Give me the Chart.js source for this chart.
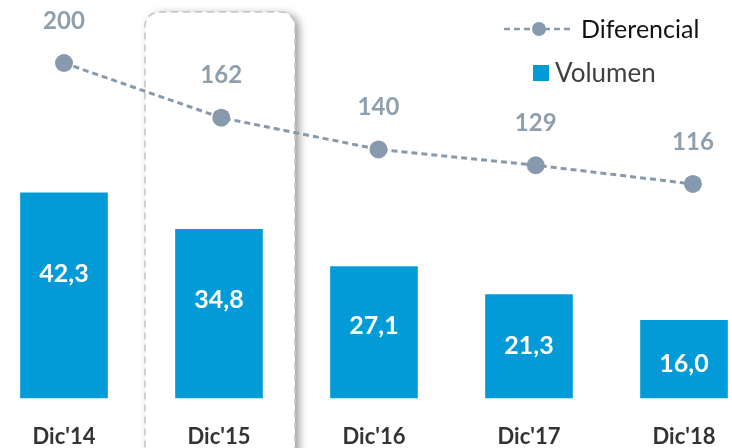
<!DOCTYPE html>
<html lang="es">
<head>
<meta charset="UTF-8">
<title>Volumen y Diferencial</title>
<script src="https://cdn.jsdelivr.net/npm/chart.js"></script>
<style>
  html, body { margin: 0; padding: 0; background: #ffffff; }
  #wrap { width: 732px; height: 448px; }
</style>
</head>
<body>
<div id="wrap"><canvas id="grafico"></canvas></div>
<script>
  const categorias = ["Dic'14", "Dic'15", "Dic'16", "Dic'17", "Dic'18"];
  const volumen = [42.3, 34.8, 27.1, 21.3, 16.0];
  const diferencial = [200, 162, 140, 129, 116];
  const destacado = 1; // columna enmarcada (Dic'15)

  const azul = '#029bd7';
  const gris = '#8799ad';
  const fuente = 'Lato, "Open Sans", sans-serif';
  const fmt = v => v.toFixed(1).replace('.', ',');

  // marco punteado alrededor de Dic'15 (antes de ejes y barras)
  const marco = {
    id: 'marco',
    beforeDraw(chart) {
      const { ctx } = chart;
      const x = chart.scales.x.getPixelForValue(destacado);
      const l = x - 74, r = x + 76, t = 12, b = chart.height + 20, rad = 14;
      ctx.save();
      ctx.beginPath();
      ctx.roundRect(l, t, r - l, b - t, rad);
      ctx.fillStyle = '#ffffff';
      ctx.shadowColor = 'rgba(0,0,0,0.4)';
      ctx.shadowBlur = 8;
      ctx.shadowOffsetX = 4;
      ctx.shadowOffsetY = 2;
      ctx.fill();
      ctx.shadowColor = 'transparent';
      ctx.setLineDash([7, 5]);
      ctx.lineWidth = 1.5;
      ctx.strokeStyle = '#c4c4c4';
      ctx.stroke();
      ctx.restore();
    }
  };

  // etiquetas de valores
  const etiquetas = {
    id: 'etiquetas',
    afterDatasetsDraw(chart) {
      const { ctx } = chart;
      ctx.save();
      ctx.textAlign = 'center';
      ctx.textBaseline = 'middle';

      ctx.font = 'bold 25px ' + fuente;
      ctx.fillStyle = '#ffffff';
      chart.getDatasetMeta(0).data.forEach((bar, i) => {
        const h = bar.base - bar.y;
        ctx.fillText(fmt(volumen[i]), bar.x, (bar.y + bar.base) / 2 - 0.2 * (h - 100));
      });

      ctx.font = 'bold 24px ' + fuente;
      ctx.fillStyle = '#8e9fad';
      chart.getDatasetMeta(1).data.forEach((pt, i) => {
        ctx.fillText(String(diferencial[i]), pt.x, pt.y - 42);
      });
      ctx.restore();
    }
  };

  // leyenda arriba a la derecha
  const leyenda = {
    id: 'leyenda',
    afterDraw(chart) {
      const { ctx } = chart;
      ctx.save();
      ctx.font = '25px ' + fuente;
      ctx.textBaseline = 'middle';
      ctx.textAlign = 'left';

      ctx.strokeStyle = gris;
      ctx.lineWidth = 2.5;
      ctx.setLineDash([6, 4]);
      ctx.beginPath();
      ctx.moveTo(504, 29);
      ctx.lineTo(572, 29);
      ctx.stroke();
      ctx.setLineDash([]);
      ctx.fillStyle = gris;
      ctx.beginPath();
      ctx.arc(539, 29, 7, 0, Math.PI * 2);
      ctx.fill();
      ctx.fillStyle = '#111111';
      ctx.fillText(chart.data.datasets[1].label, 581, 30);

      ctx.fillStyle = azul;
      ctx.fillRect(533, 65, 16, 16);
      ctx.fillStyle = '#404040';
      ctx.font = '26px ' + fuente;
      ctx.fillText(chart.data.datasets[0].label, 555, 74);
      ctx.restore();
    }
  };

  new Chart(document.getElementById('grafico'), {
    data: {
      labels: categorias,
      datasets: [
        {
          type: 'bar',
          label: 'Volumen',
          data: volumen,
          backgroundColor: azul,
          barThickness: 87,
          grouped: false,
          xAxisID: 'x',
          yAxisID: 'y',
          clip: false,
          order: 2
        },
        {
          type: 'line',
          label: 'Diferencial',
          // eje secundario: en el original los puntos se abren un poco respecto a las barras
          data: diferencial.map((v, i) => ({ x: i, y: v })),
          borderColor: gris,
          borderWidth: 3,
          borderDash: [6, 4],
          pointRadius: 9,
          pointBackgroundColor: gris,
          pointBorderWidth: 0,
          xAxisID: 'x2',
          yAxisID: 'y1',
          clip: false,
          order: 1
        }
      ]
    },
    options: {
      responsive: true,
      maintainAspectRatio: false,
      animation: false,
      layout: { padding: { left: 64, right: 48, top: 10, bottom: 0 } },
      plugins: {
        legend: { display: false },
        tooltip: { enabled: false }
      },
      scales: {
        x: {
          offset: false,
          grid: { display: false, drawTicks: false },
          border: { display: false },
          ticks: {
            padding: 26,
            color: '#333333',
            font: { family: fuente, size: 22, weight: 'bold' }
          },
          afterFit(scale) {
            scale.height = 50;
            scale.paddingLeft = 0;
            scale.paddingRight = 0;
          }
        },
        x2: { type: 'linear', display: false, min: 0, max: 3.943 },
        y: { display: false, min: 0, max: 80 },
        y1: { display: false, min: -32.6, max: 236.8 }
      }
    },
    plugins: [marco, etiquetas, leyenda]
  });
</script>
</body>
</html>
